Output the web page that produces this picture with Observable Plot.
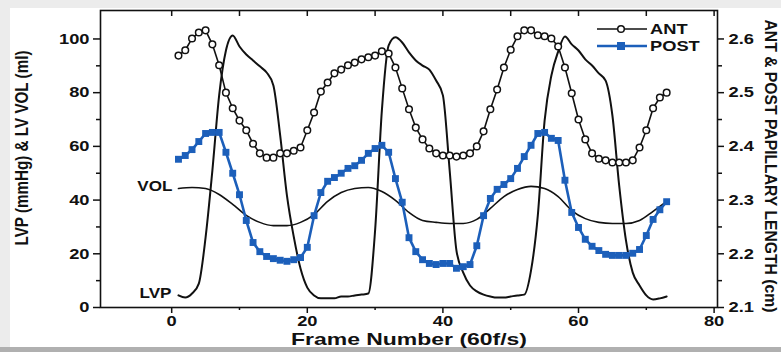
<!DOCTYPE html>
<html>
<head>
<meta charset="utf-8">
<script src="https://cdn.jsdelivr.net/npm/d3@7"></script>
<script src="https://cdn.jsdelivr.net/npm/@observablehq/plot@0.6"></script>
<style>
  html, body { margin: 0; padding: 0; background: #ffffff; }
  #chart { width: 781px; height: 352px; overflow: hidden; }
</style>
</head>
<body>
<div id="chart"></div>
<script>
// ---------- data ----------
const frames = d3.range(1, 74); // frame numbers 1..73

const lvp = [4.5,3.7,5.2,8.9,26.1,51.0,79.0,95.7,101.3,97.2,
             94.2,92.0,89.8,87.5,82.7,64.1,41.7,26.4,14.5,7.4,
             4.5,3.4,3.4,3.4,4.1,4.1,4.5,4.8,5.2,28.7,
             73.4,97.6,100.6,98.7,95.0,92.0,90.1,88.6,84.5,79.0,
             51.0,21.2,13.0,8.2,6.0,4.8,4.1,3.7,3.7,4.1,
             4.5,4.8,13.8,34.3,69.6,86.4,95.3,100.9,98.0,95.7,
             92.4,90.1,87.2,84.5,71.5,45.4,25.0,13.0,8.2,4.5,
             3.0,3.4,4.1];

const ant = [2.569,2.579,2.601,2.612,2.616,2.590,2.551,2.500,2.471,2.448,
             2.430,2.405,2.387,2.379,2.379,2.387,2.387,2.392,2.398,2.430,
             2.463,2.502,2.519,2.536,2.543,2.551,2.556,2.562,2.566,2.569,
             2.577,2.573,2.547,2.508,2.469,2.435,2.413,2.396,2.387,2.383,
             2.383,2.381,2.383,2.387,2.400,2.428,2.469,2.506,2.547,2.580,
             2.605,2.616,2.616,2.607,2.605,2.601,2.586,2.547,2.499,2.450,
             2.413,2.387,2.377,2.374,2.370,2.370,2.370,2.374,2.398,2.430,
             2.471,2.491,2.500];

const post = [2.376,2.383,2.394,2.409,2.424,2.426,2.426,2.389,2.350,2.310,
              2.262,2.221,2.204,2.195,2.191,2.188,2.186,2.189,2.193,2.212,
              2.271,2.314,2.335,2.342,2.350,2.359,2.364,2.374,2.387,2.396,
              2.402,2.389,2.340,2.296,2.230,2.204,2.189,2.182,2.180,2.182,
              2.182,2.173,2.176,2.180,2.215,2.271,2.303,2.320,2.329,2.340,
              2.359,2.381,2.402,2.424,2.426,2.415,2.411,2.337,2.277,2.249,
              2.227,2.214,2.206,2.199,2.197,2.197,2.197,2.201,2.208,2.234,
              2.264,2.282,2.297];

const volFrames = d3.range(1, 74, 2);
const vol = [44.3,44.7,44.3,42.1,38.4,34.3,31.7,30.5,30.5,31.7,
             34.6,39.5,42.8,44.3,44.7,43.2,39.9,35.4,32.4,31.7,
             31.3,31.3,32.8,36.9,41.3,43.9,45.1,44.3,41.3,36.1,
             33.1,31.7,31.3,31.3,32.4,35.8,39.5];

const xMajorTicks = [0, 20, 40, 60, 80];
const xMinorTicks = [10, 30, 50, 70];
const xTopTicks = [0, 10, 20, 30, 40, 50, 60, 70, 80];
const yMajorTicks = [0, 20, 40, 60, 80, 100];
const yMinorTicks = [10, 30, 50, 70, 90];
const rightMajorTicks = [2.1, 2.2, 2.3, 2.4, 2.5, 2.6];
const rightMinorTicks = [2.15, 2.25, 2.35, 2.45, 2.55];

const seriesNames = ["ANT", "POST"];
const curveLabels = ["VOL", "LVP"];
const xTitle = "Frame Number (60f/s)";
const yLeftTitle = "LVP (mmHg) & LV VOL (ml)";
const yRightTitle = "ANT & POST PAPILLARY LENGTH (cm)";

// ---------- chart ----------
const BLUE = "#1c5fba";
const INK = "#111";
const FONT = "'Liberation Sans', Arial, Helvetica, sans-serif";
const STRETCH = 1.22;
// right axis (2.1 .. 2.6 cm) is aligned with left axis (0 .. 100)
const toLeft = v => (v - 2.1) * 200;
const fromLeft = d => 2.1 + d / 200;

const lvpData = frames.map((f, i) => ({f, v: lvp[i]}));
const antData = frames.map((f, i) => ({f, v: ant[i]}));
const postData = frames.map((f, i) => ({f, v: post[i]}));
const volData = volFrames.map((f, i) => ({f, v: vol[i]}));

const svg = Plot.plot({
  width: 781,
  height: 352,
  marginLeft: 100,
  marginRight: 64,
  marginTop: 10,
  marginBottom: 45,
  x: {domain: [-10.5, 80.5]},
  y: {domain: [0, 110.6]},
  style: {fontFamily: FONT, fontSize: "15px", fontWeight: "bold", color: INK, background: "transparent", overflow: "visible"},
  marks: [
    Plot.line(volData, {x: "f", y: "v", curve: "monotone-x", stroke: INK, strokeWidth: 1.6}),
    Plot.line(lvpData, {x: "f", y: "v", curve: "monotone-x", stroke: INK, strokeWidth: 2}),
    Plot.line(postData, {x: "f", y: d => toLeft(d.v), stroke: BLUE, strokeWidth: 2.6}),
    Plot.dot(postData, {x: "f", y: d => toLeft(d.v), symbol: "square", fill: BLUE, r: 3.9}),
    Plot.line(antData, {x: "f", y: d => toLeft(d.v), stroke: INK, strokeWidth: 1.6}),
    Plot.dot(antData, {x: "f", y: d => toLeft(d.v), r: 3.3, fill: "white", stroke: INK, strokeWidth: 1.5}),
    Plot.text([volData[0]], {x: "f", y: "v", text: () => curveLabels[0], textAnchor: "end", dx: -6, dy: -2, fontSize: 14}),
    Plot.text([lvpData[0]], {x: "f", y: "v", text: () => curveLabels[1], textAnchor: "end", dx: -7, dy: -2, fontSize: 14}),
    Plot.frame({stroke: INK, strokeWidth: 1.6}),
    Plot.axisX(xMajorTicks, {anchor: "bottom", tickSize: 6, tickPadding: 2, label: null, strokeWidth: 1.5}),
    Plot.axisX(xMinorTicks, {anchor: "bottom", tickSize: 3, tickFormat: () => "", label: null, strokeWidth: 1.5}),
    Plot.axisX(xTopTicks, {anchor: "top", tickSize: 5, dy: 5, tickFormat: () => "", label: null, strokeWidth: 1.5}),
    Plot.axisY(yMajorTicks, {anchor: "left", tickSize: 7, tickPadding: 4, label: null, strokeWidth: 1.5}),
    Plot.axisY(yMinorTicks, {anchor: "left", tickSize: 4, tickFormat: () => "", label: null, strokeWidth: 1.5}),
    Plot.axisY(rightMajorTicks.map(toLeft), {anchor: "right", tickSize: 6, tickPadding: 5, tickFormat: d => fromLeft(d).toFixed(1), label: null, strokeWidth: 1.5}),
    Plot.axisY(rightMinorTicks.map(toLeft), {anchor: "right", tickSize: 4, tickFormat: () => "", label: null, strokeWidth: 1.5})
  ]
});

// stretch Plot's horizontal texts slightly (the reference is widened)
svg.querySelectorAll("text").forEach(t => {
  if (t.textContent.trim() === "") { t.remove(); return; }
  const x = t.getAttribute("x");
  const y = t.getAttribute("y");
  let tr = t.getAttribute("transform") || "";
  if (x !== null && !isNaN(+x)) {
    t.removeAttribute("x");
    tr += ` translate(${+x},0)`;
  }
  if (y !== null && !isNaN(+y)) {
    t.removeAttribute("y");
    tr += ` translate(0,${+y})`;
  }
  t.setAttribute("transform", `${tr} scale(${STRETCH},1)`);
});

const root = d3.select(svg);

// page backdrop
const bg = root.insert("g", ":first-child");
bg.append("rect").attr("width", 781).attr("height", 352).attr("fill", "#ececec");
bg.append("rect").attr("x", 10).attr("y", 8).attr("width", 771).attr("height", 339).attr("fill", "#ffffff");
bg.append("rect").attr("x", 0).attr("y", 347).attr("width", 781).attr("height", 5).attr("fill", "#b0b0b0");

// axis titles
root.append("text")
  .attr("transform", "translate(409,345)")
  .attr("text-anchor", "middle")
  .attr("font-family", FONT).attr("font-weight", "bold").attr("font-size", 17)
  .attr("textLength", 236).attr("lengthAdjust", "spacingAndGlyphs")
  .attr("fill", INK)
  .text(xTitle);

root.append("text")
  .attr("transform", `translate(28,148) scale(${STRETCH},1) rotate(-90)`)
  .attr("text-anchor", "middle")
  .attr("font-family", FONT).attr("font-weight", "bold").attr("font-size", 15)
  .attr("textLength", 195).attr("lengthAdjust", "spacingAndGlyphs")
  .attr("fill", INK)
  .text(yLeftTitle);

root.append("text")
  .attr("transform", `translate(765,166) scale(1.12,1) rotate(90)`)
  .attr("text-anchor", "middle")
  .attr("font-family", FONT).attr("font-weight", "bold").attr("font-size", 14.5)
  .attr("textLength", 293).attr("lengthAdjust", "spacingAndGlyphs")
  .attr("fill", INK)
  .text(yRightTitle);

// legend (top right, inside the frame)
const lg = root.append("g").attr("font-family", FONT).attr("font-weight", "bold").attr("font-size", 15).attr("fill", INK).attr("text-anchor", "start");
const rowY = [29, 46];
// ANT
lg.append("line").attr("x1", 597).attr("x2", 647).attr("y1", rowY[0]).attr("y2", rowY[0]).attr("stroke", INK).attr("stroke-width", 1.6);
lg.append("circle").attr("cx", 621).attr("cy", rowY[0]).attr("r", 3.3).attr("fill", "white").attr("stroke", INK).attr("stroke-width", 1.5);
lg.append("text").attr("transform", `translate(650,${rowY[0]}) scale(${STRETCH},1)`).attr("dy", "0.35em").attr("text-anchor", "start").text(seriesNames[0]);
// POST
lg.append("line").attr("x1", 597).attr("x2", 647).attr("y1", rowY[1]).attr("y2", rowY[1]).attr("stroke", BLUE).attr("stroke-width", 2.6);
lg.append("rect").attr("x", 617).attr("y", rowY[1] - 4).attr("width", 8).attr("height", 8).attr("fill", BLUE);
lg.append("text").attr("transform", `translate(650,${rowY[1]}) scale(${STRETCH},1)`).attr("dy", "0.35em").attr("text-anchor", "start").text(seriesNames[1]);

document.getElementById("chart").appendChild(svg);
</script>
</body>
</html>
